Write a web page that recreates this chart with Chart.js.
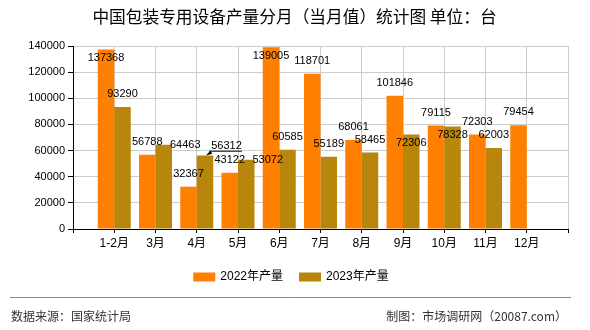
<!DOCTYPE html>
<html>
<head>
<meta charset="utf-8">
<script src="https://cdn.jsdelivr.net/npm/chart.js@4.4.1/dist/chart.umd.min.js"></script>
<style>
html,body{margin:0;padding:0;background:#fff;}
canvas{display:block;}
</style>
</head>
<body>
<canvas id="c" width="590" height="330"></canvas>
<script>
const titleText = '中国包装专用设备产量分月（当月值）统计图 单位：台';
const categories = ['1-2月','3月','4月','5月','6月','7月','8月','9月','10月','11月','12月'];
const seriesNames = ['2022年产量','2023年产量'];
const prod2022 = [137368,56788,32367,43122,139005,118701,68061,101846,79115,72303,79454];
const prod2023 = [93290,64463,56312,53072,60585,55189,58465,72306,78328,62003,null];
const yMin = 0, yMax = 140000, yStep = 20000;
const sourceText = '数据来源：国家统计局';
const makerText = '制图：市场调研网（20087.com）';

const colors = ['#FF8000','#B8860B'];
const labels = [''].concat(categories, ['']);
const pad = arr => [null].concat(arr, [null]);

const NUMFONT = '11px "Liberation Sans", Arial, sans-serif';
const CJKFONT = '"Liberation Sans", "Noto Sans CJK SC", sans-serif';

const overlap = (a,b) => a.x1 < b.x2 && a.x2 > b.x1 && a.y1 < b.y2 && a.y2 > b.y1;

const labelPlugin = {
  id: 'valueLabels',
  afterDatasetsDraw(chart) {
    const ctx = chart.ctx, area = chart.chartArea;
    const H = 12;
    const placed = [];
    ctx.save();
    ctx.font = NUMFONT;
    ctx.fillStyle = '#000';
    ctx.textAlign = 'center';
    ctx.textBaseline = 'middle';
    chart.data.datasets.forEach((ds, di) => {
      const meta = chart.getDatasetMeta(di);
      ds.data.forEach((v, i) => {
        if (v === null || v === undefined) return;
        const bar = meta.data[i];
        const txt = String(v);
        const w = ctx.measureText(txt).width;
        const right = bar.x + bar.width / 2;
        const box = (cx, cy) => ({x1: cx - w/2, x2: cx + w/2, y1: cy - H/2, y2: cy + H/2, cx, cy});
        const cands = [];
        const above = box(bar.x, bar.y - 13);
        if (above.y1 >= area.top) cands.push({b: above});
        cands.push({b: box(bar.x, bar.y + 8.5)});
        cands.push({b: box(right - 2 + w/2, bar.y)});
        cands.push({b: box(right - 2 + w/2, bar.y - 9.7), leader: true});
        let chosen = cands.find(c => !placed.some(p => overlap(p, c.b))) || cands[cands.length - 1];
        placed.push(chosen.b);
        ctx.fillText(txt, chosen.b.cx, chosen.b.cy);
        if (chosen.leader) {
          const ly = chosen.b.cy + 5;
          ctx.strokeStyle = '#000';
          ctx.lineWidth = 1;
          ctx.beginPath();
          ctx.moveTo(right - 4, ly + 0.5);
          ctx.lineTo(chosen.b.x2, ly + 0.5);
          ctx.stroke();
          ctx.beginPath();
          ctx.moveTo(bar.x + 1, bar.y);
          ctx.lineTo(right - 3, ly);
          ctx.lineTo(right - 1, ly + 3);
          ctx.closePath();
          ctx.fill();
        }
      });
    });
    ctx.restore();
  }
};

const decoPlugin = {
  id: 'deco',
  afterDraw(chart) {
    const ctx = chart.ctx;
    ctx.save();
    // title
    ctx.fillStyle = '#000';
    ctx.font = '16.7px "Noto Sans CJK SC", sans-serif';
    ctx.textAlign = 'center';
    ctx.textBaseline = 'middle';
    ctx.fillText(titleText, 294.5, 17);
    // legend
    ctx.font = '12px ' + CJKFONT;
    ctx.textAlign = 'left';
    const boxW = 22, boxH = 9, gap = 5, spacing = 16;
    const items = chart.data.datasets.map(d => ({label: d.label, color: d.backgroundColor, w: ctx.measureText(d.label).width}));
    const total = items.reduce((s, it) => s + boxW + gap + it.w, 0) + spacing * (items.length - 1);
    let x = 291 - total / 2;
    const ly = 277;
    items.forEach(it => {
      ctx.fillStyle = it.color;
      ctx.fillRect(x, ly - boxH / 2, boxW, boxH);
      ctx.fillStyle = '#000';
      ctx.fillText(it.label, x + boxW + gap, ly);
      x += boxW + gap + it.w + spacing;
    });
    // footer
    ctx.strokeStyle = '#888';
    ctx.lineWidth = 1;
    ctx.beginPath();
    ctx.moveTo(10, 297.5);
    ctx.lineTo(571, 297.5);
    ctx.stroke();
    ctx.fillStyle = '#333';
    ctx.font = '12px "Noto Sans CJK SC", sans-serif';
    ctx.textAlign = 'left';
    ctx.fillText(sourceText, 11, 316);
    ctx.textAlign = 'right';
    ctx.fillText(makerText, 567, 316);
    ctx.restore();
  }
};

new Chart(document.getElementById('c'), {
  type: 'bar',
  data: {
    labels: labels,
    datasets: [
      {label: seriesNames[0], data: pad(prod2022), backgroundColor: colors[0], categoryPercentage: 0.8, barPercentage: 1.0},
      {label: seriesNames[1], data: pad(prod2023), backgroundColor: colors[1], categoryPercentage: 0.8, barPercentage: 1.0}
    ]
  },
  options: {
    responsive: false,
    animation: false,
    events: [],
    layout: {padding: {left: 0, right: 22, top: 46, bottom: 71}},
    plugins: {legend: {display: false}, title: {display: false}, tooltip: {enabled: false}},
    scales: {
      x: {
        offset: false,
        grid: {offset: false, color: '#cccccc', tickColor: '#000', tickLength: 4, drawTicks: true},
        border: {color: '#000', width: 1},
        ticks: {autoSkip: false, maxRotation: 0, minRotation: 0, padding: 3, color: '#000', font: {family: CJKFONT, size: 12}},
        afterFit(s) { s.height = 30; }
      },
      y: {
        min: yMin, max: yMax,
        grid: {color: '#cccccc', tickColor: '#000', tickLength: 5},
        border: {color: '#000', width: 1},
        ticks: {stepSize: yStep, padding: 3, color: '#000', font: {family: '"Liberation Sans", Arial, sans-serif', size: 11},
                callback: v => String(v)},
        afterFit(s) { s.width = 73; }
      }
    }
  },
  plugins: [labelPlugin, decoPlugin]
});
</script>
</body>
</html>
